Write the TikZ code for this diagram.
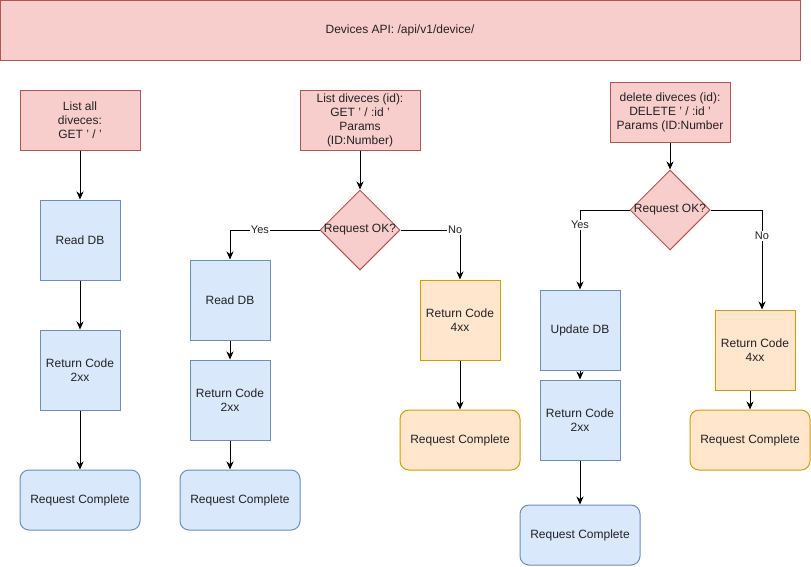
\documentclass[tikz,border=0pt]{standalone}
\usepackage{fontspec}
\setmainfont{Liberation Sans}
\usetikzlibrary{shapes.geometric,arrows.meta,calc}
\definecolor{rfill}{HTML}{F8CECC}
\definecolor{rdraw}{HTML}{B85450}
\definecolor{bfill}{HTML}{DAE8FC}
\definecolor{bdraw}{HTML}{6C8EBF}
\definecolor{ofill}{HTML}{FFE6CC}
\definecolor{odraw}{HTML}{D79B00}
\definecolor{txt}{HTML}{222222}
\begin{document}
\begin{tikzpicture}[x=1pt,y=-1pt,
  mainfont/.style={font=\fontsize{12}{14}\selectfont, text=txt},
  base/.style={draw, line width=1pt, align=center, inner sep=1pt, mainfont},
  redbox/.style={base, fill=rfill, draw=rdraw, minimum width=120pt, minimum height=60pt},
  bluebox/.style={base, fill=bfill, draw=bdraw, minimum width=80pt, minimum height=80pt},
  orangebox/.style={base, fill=ofill, draw=odraw, minimum width=80pt, minimum height=80pt},
  bluedone/.style={base, fill=bfill, draw=bdraw, minimum width=120pt, minimum height=60pt, rounded corners=9pt},
  orangedone/.style={base, fill=ofill, draw=odraw, minimum width=120pt, minimum height=60pt, rounded corners=9pt},
  dia/.style={draw=rdraw, fill=rfill, line width=1pt, diamond, aspect=1, minimum width=80pt, minimum height=80pt, inner sep=0pt},
  arr/.style={draw, line width=1pt, -{Stealth[length=8pt,width=7pt,inset=2.5pt]}},
  lbl/.style={fill=white, inner sep=1pt, font=\fontsize{11}{13}\selectfont, text=txt}
]
\useasboundingbox (0,0) rectangle (811,566);

% title banner
\node[redbox, minimum width=800pt, minimum height=60pt] (title) at (400,30) {Devices API: /api/v1/device/};

% column 1
\node[redbox] (l1) at (80,120) {List all\\diveces:\\GET ' / '};
\node[bluebox] (r1) at (80,240) {Read DB};
\node[bluebox] (c1) at (80,370) {Return Code\\2xx};
\node[bluedone] (q1) at (80,500) {Request Complete};
\draw[arr] (l1) -- (r1);
\draw[arr] (r1) -- (c1);
\draw[arr] (c1) -- (q1);

% column 2
\node[redbox] (l2) at (360,120) {List diveces (id):\\GET ' / :id '\\Params\\(ID:Number)};
\node[dia, label={[mainfont]center:Request OK?}] (d2) at (360,230) {};
\node[bluebox] (r2) at (230,300) {Read DB};
\node[bluebox] (c2) at (230,400) {Return Code\\2xx};
\node[bluedone] (q2) at (240,500) {Request Complete};
\node[orangebox] (e2) at (460,320) {Return Code\\4xx};
\node[orangedone] (f2) at (460,440) {Request Complete};
\draw[arr] (l2) -- (d2);
\draw[arr] (d2.west) -| node[lbl, pos=0.333] {Yes} (r2.north);
\draw[arr] (d2.east) -| node[lbl, pos=0.46] {No} (e2.north);
\draw[arr] (r2) -- (c2);
\draw[arr] (c2.south) -- (c2.south |- q2.north);
\draw[arr] (e2) -- (f2);

% column 3
\node[redbox] (l3) at (670,112) {delete diveces (id):\\DELETE ' / :id '\\Params (ID:Number};
\node[dia, label={[mainfont]center:Request OK?}] (d3) at (670,210) {};
\node[bluebox] (u3) at (580,330) {Update DB};
\node[bluebox] (c3) at (580,420) {Return Code\\2xx};
\node[bluedone] (q3) at (580,535) {Request Complete};
\node[orangebox] (e3) at (755,350) {Return Code\\4xx};
\node[orangedone] (f3) at (750,440) {Request Complete};
\draw[arr] (l3) -- (d3);
\draw[arr] (d3.west) -| node[lbl, pos=0.594] {Yes} (u3.north);
\draw[arr] (d3.east) -| node[lbl, pos=0.63] {No} ([xshift=7pt]e3.north);
\draw[arr] (u3) -- (c3);
\draw[arr] (c3) -- (q3);
\draw[arr] (e3.south -| f3.north) -- (f3.north);
\end{tikzpicture}
\end{document}
